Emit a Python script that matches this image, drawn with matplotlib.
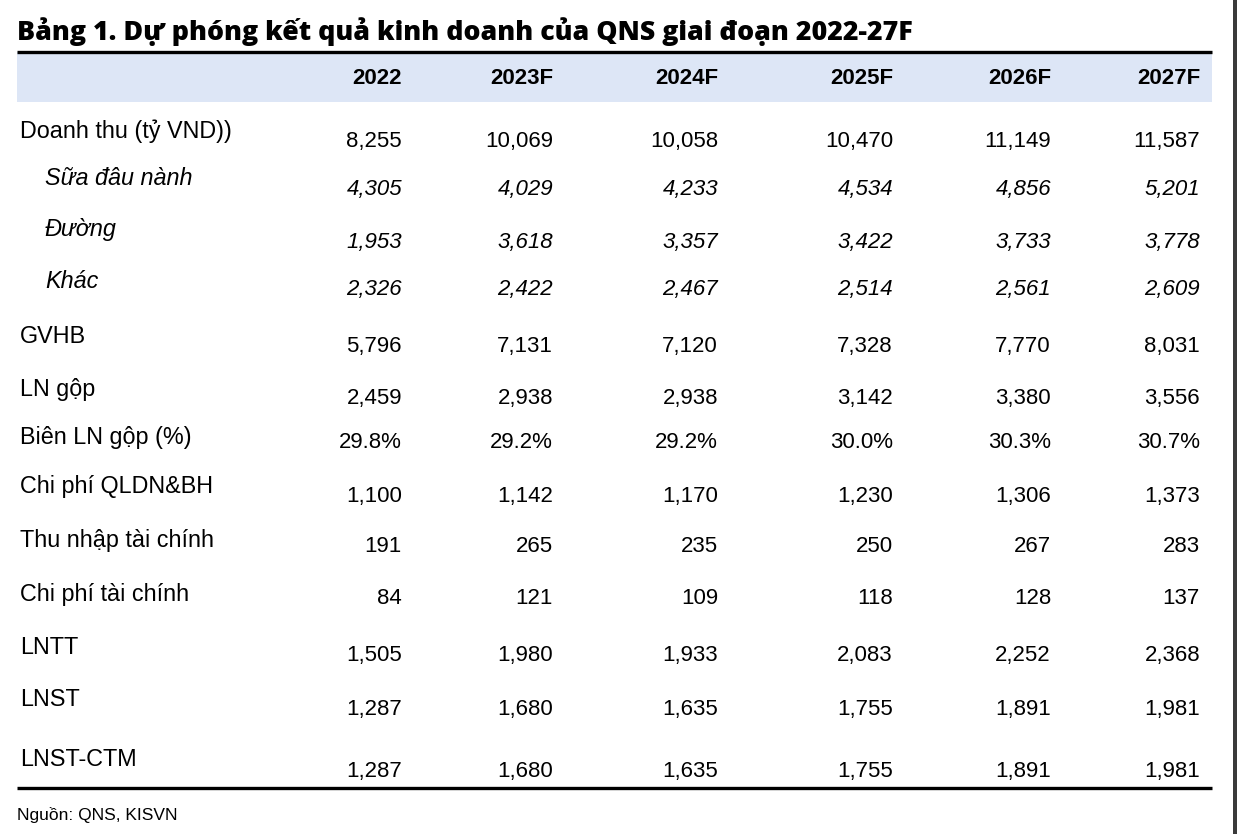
import matplotlib.pyplot as plt
from matplotlib.patches import Rectangle

title = 'Bảng 1. Dự phóng kết quả kinh doanh của QNS giai đoạn 2022-27F'
years = ['2022', '2023F', '2024F', '2025F', '2026F', '2027F']
row_labels = ['Doanh thu (tỷ VND))', 'Sữa đâu nành', 'Đường', 'Khác', 'GVHB', 'LN gộp',
              'Biên LN gộp (%)', 'Chi phí QLDN&BH', 'Thu nhập tài chính', 'Chi phí tài chính',
              'LNTT', 'LNST', 'LNST-CTM']
italic_rows = ['Sữa đâu nành', 'Đường', 'Khác']
doanh_thu = [8255, 10069, 10058, 10470, 11149, 11587]
sua_dau_nanh = [4305, 4029, 4233, 4534, 4856, 5201]
duong = [1953, 3618, 3357, 3422, 3733, 3778]
khac = [2326, 2422, 2467, 2514, 2561, 2609]
gvhb = [5796, 7131, 7120, 7328, 7770, 8031]
ln_gop = [2459, 2938, 2938, 3142, 3380, 3556]
bien_ln_gop = [29.8, 29.2, 29.2, 30.0, 30.3, 30.7]
chi_phi_qldn = [1100, 1142, 1170, 1230, 1306, 1373]
thu_nhap_tc = [191, 265, 235, 250, 267, 283]
chi_phi_tc = [84, 121, 109, 118, 128, 137]
lntt = [1505, 1980, 1933, 2083, 2252, 2368]
lnst = [1287, 1680, 1635, 1755, 1891, 1981]
lnst_ctm = [1287, 1680, 1635, 1755, 1891, 1981]
source = 'Nguồn: QNS, KISVN'

rows = [doanh_thu, sua_dau_nanh, duong, khac, gvhb, ln_gop, bien_ln_gop,
        chi_phi_qldn, thu_nhap_tc, chi_phi_tc, lntt, lnst, lnst_ctm]

# layout in pixels
col_right = [402, 553, 718, 893, 1051, 1200]
label_y = [131, 178, 229, 282, 336, 389, 437, 486, 540, 594, 647, 700, 760]
value_y = [141, 189, 242, 290, 346, 398, 442, 496, 546, 599, 656, 710, 771]

fig = plt.figure(figsize=(12.37, 8.34), dpi=100)
ax = fig.add_axes([0, 0, 1, 1])
ax.set_xlim(0, 1237)
ax.set_ylim(834, 0)
ax.axis('off')

body = 'Liberation Sans'
fs = 16

ax.text(17, 40, title, fontsize=19.3, fontweight='heavy', family='Open Sans', va='baseline', ha='left')
ax.add_patch(Rectangle((17, 52), 1195, 50, color='#dde6f6', lw=0))
ax.plot([17, 1212], [51.5, 51.5], color='black', lw=2.4, solid_capstyle='butt')

for x, yr in zip(col_right, years):
    ax.text(x, 78, yr, fontsize=fs, fontweight='bold', family=body, ha='right', va='center')

for lab, ly, vy, vals in zip(row_labels, label_y, value_y, rows):
    it = lab in italic_rows
    style = 'italic' if it else 'normal'
    ax.text(45 if it else 20, ly, lab, fontsize=16.8, family=body, style=style, ha='left', va='center')
    for x, v in zip(col_right, vals):
        s = f'{v:.1f}%' if lab.startswith('Biên') else f'{v:,}'
        ax.text(x, vy, s, fontsize=fs, family=body, style=style, ha='right', va='center')

ax.plot([17, 1212], [788, 788], color='black', lw=2.4, solid_capstyle='butt')
ax.text(17, 815, source, fontsize=12.5, family=body, ha='left', va='center')

ax.add_patch(Rectangle((1233, 0), 4, 834, color='#3a3a3a', lw=0))

fig.savefig('out.png', dpi=100)
